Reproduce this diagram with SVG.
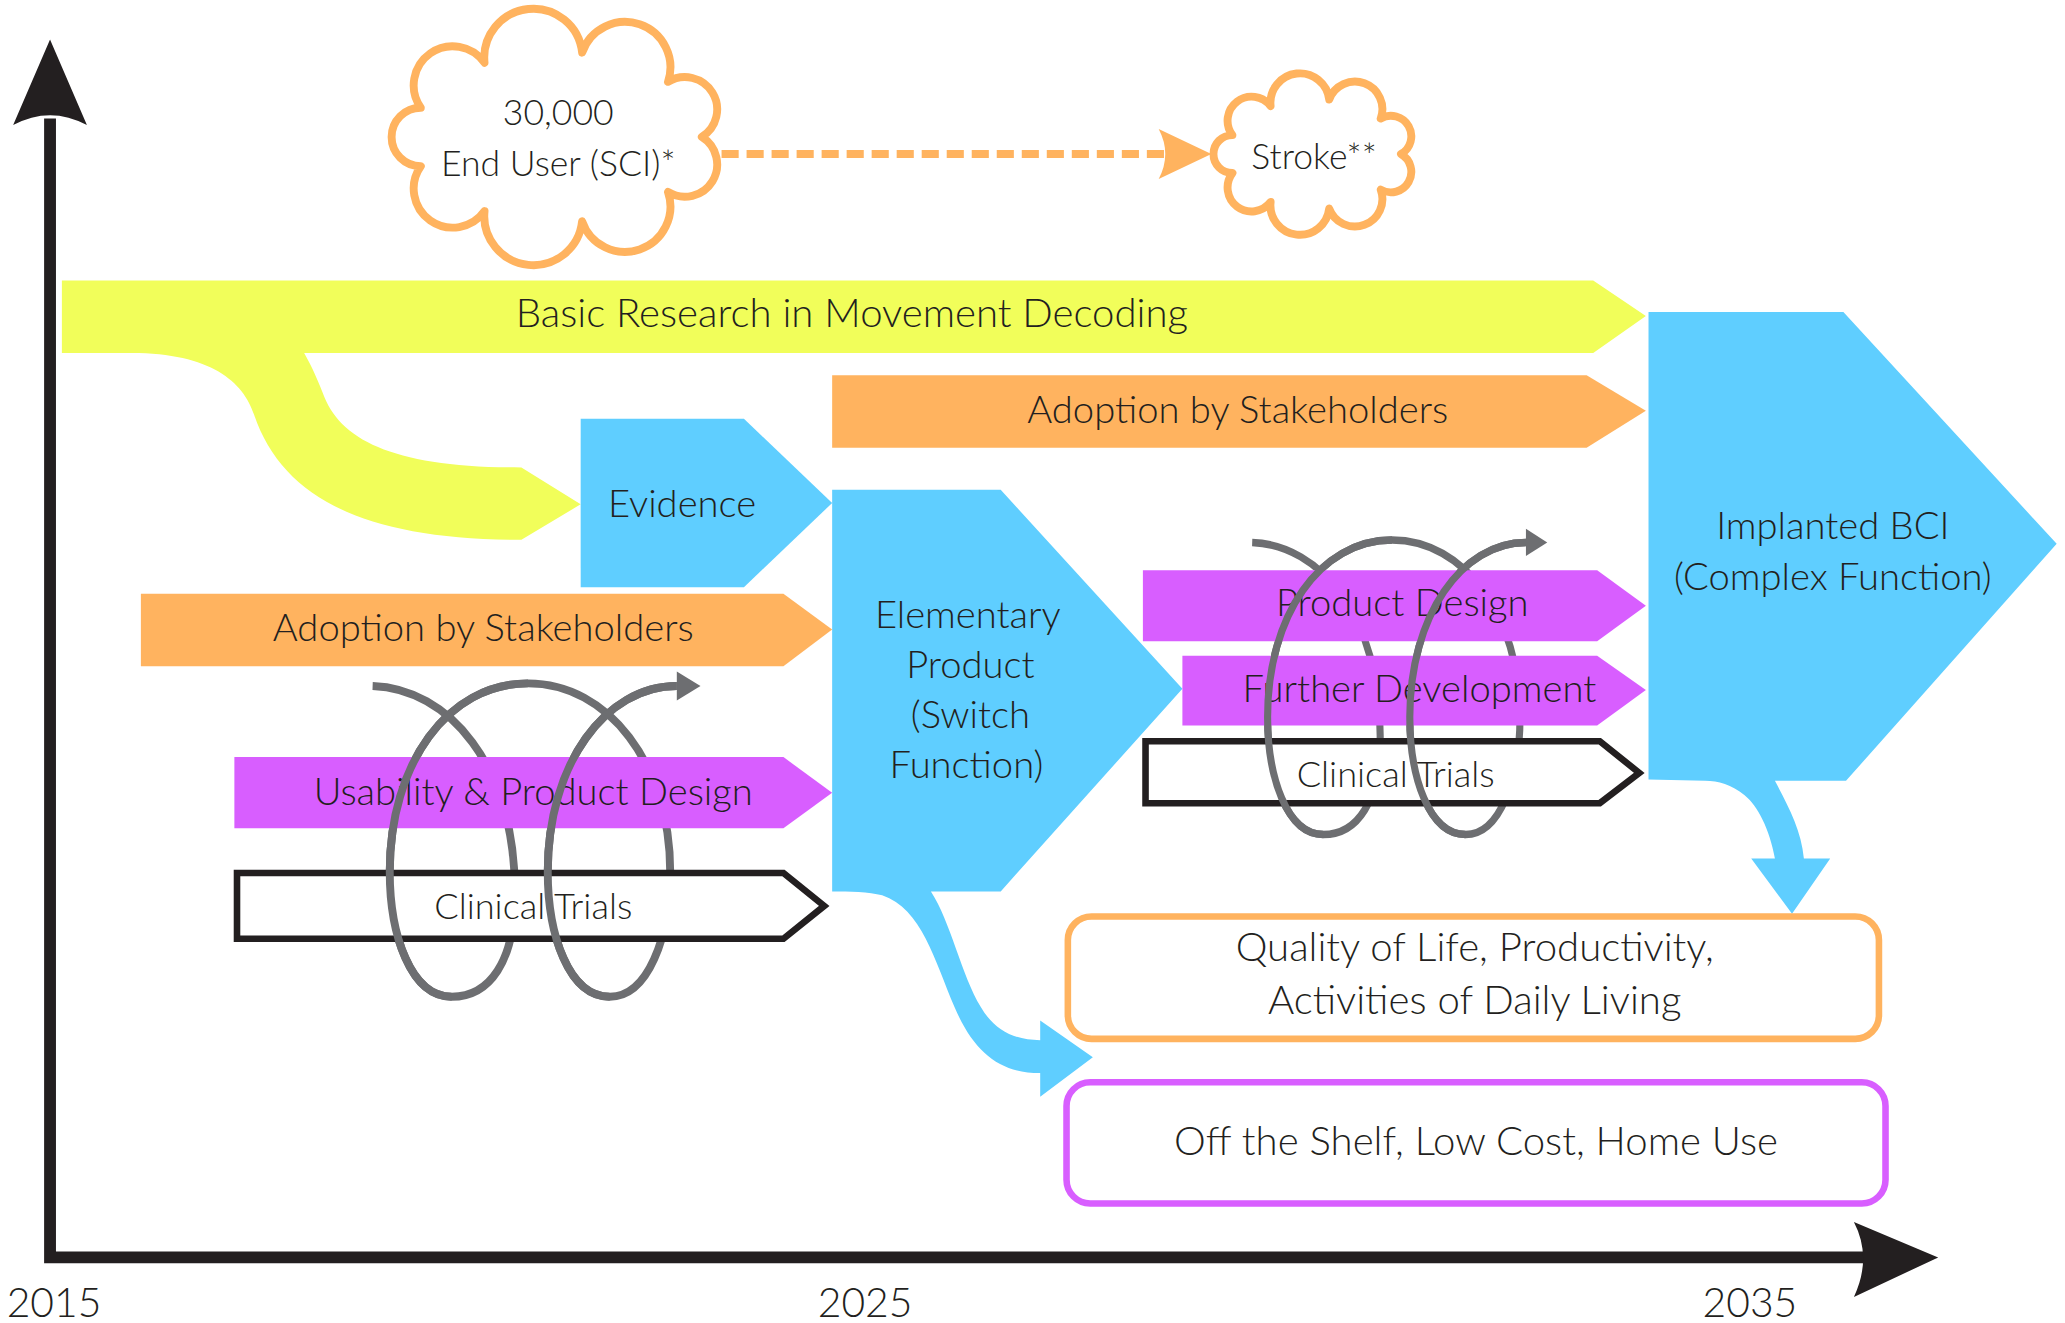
<svg xmlns="http://www.w3.org/2000/svg" width="2065" height="1323" viewBox="0 0 2065 1323">
<style>
text{font-family:"Source Sans Pro","Lato","Open Sans",sans-serif;font-weight:300;fill:#231F20;text-anchor:middle}
.lbl{font-size:29px}
.big{font-size:30.5px}
.sm{font-size:27.5px}
.yr{font-size:31px}
.cl{font-size:27px}
.coil{fill:none;stroke:#6D6E71;stroke-width:6}
</style>
<defs>
<path id="coilFull" d="M283,521 C340,523 392,580 391,680 C391,730 372,757 343,757 C312,757 296,710 296,662 C296,580 340,519 401,519 C462,519 509,580 509,662 C509,712 492,757 463,757 C432,757 416,710 416,662 C416,580 460,521 514,521"/>
<path id="coilFront" d="M343,757 C312,757 296,710 296,662 C296,580 340,519 401,519 M463,757 C432,757 416,710 416,662 C416,580 460,521 514,521"/>
</defs>
<rect width="2065" height="1323" fill="#fff"/>
<g transform="scale(1.3167)">
<g id="axes">
<polyline points="38,90 38,955 1420,955" fill="none" stroke="#231F20" stroke-width="9"/>
<path d="M38,30 L66,95 Q38,80 10,95 Z" fill="#231F20"/>
<path d="M1472,955 L1408,985 Q1422,955 1408,928 Z" fill="#231F20"/>
<text class="yr" x="41" y="1000">2015</text>
<text class="yr" x="657" y="1000">2025</text>
<text class="yr" x="1329" y="1000">2035</text>
</g>
<g id="coil-left-back" class="coil"><use href="#coilFull"/><path d="M514,510 L532,521 L514,532 Z" fill="#6D6E71" stroke="none"/></g>
<g id="coil-right-back" class="coil" transform="translate(696.3,-77.74) scale(0.9,0.94)"><use href="#coilFull"/><path d="M514,510 L532,521 L514,532 Z" fill="#6D6E71" stroke="none"/></g>
<g id="connectors">
<line x1="548" y1="117" x2="886" y2="117" stroke="#FFB35F" stroke-width="6" stroke-dasharray="13 6"/>
<path d="M880,98 L920,117 L880,136 Q890,117 880,98 Z" fill="#FFB35F"/>
</g>
<g id="cloud-sci">
<path d="M533,104 A1,1 0 0 1 507.3,145.8 A1,1 0 0 1 442.1,168 A1,1 0 0 1 368,160.3 A1,1 0 0 1 319.6,126.2 A1,1 0 0 1 319.6,81.8 A1,1 0 0 1 368,47.7 A1,1 0 0 1 442.1,40 A1,1 0 0 1 507.3,62.2 A1,1 0 0 1 533,104 Z" fill="#fff" stroke="#FFB35F" stroke-width="6" stroke-linejoin="round"/>
<text class="cl" x="424" y="95">30,000</text>
<text class="cl" x="424" y="134">End User (SCI)*</text>
</g>
<g id="cloud-stroke">
<path d="M1064,117 A1,1 0 0 1 1048.6,144 A1,1 0 0 1 1009.5,158.4 A1,1 0 0 1 965,153.4 A1,1 0 0 1 936,131.4 A1,1 0 0 1 936,102.6 A1,1 0 0 1 965,80.6 A1,1 0 0 1 1009.5,75.6 A1,1 0 0 1 1048.6,90 A1,1 0 0 1 1064,117 Z" fill="#fff" stroke="#FFB35F" stroke-width="6" stroke-linejoin="round"/>
<text class="cl" x="998" y="128">Stroke**</text>
</g>
<g id="basic-research">
<path d="M47,213 L1210,213 L1250,240 L1210,268 L231,268 C235,275 240,285 245,298 C258,335 300,355 396,355 L441,383 L396,410 C280,410 215,380 193,315 C185,290 160,268 100,268 L47,268 Z" fill="#F1FE5A"/>
<text class="big" x="647" y="248">Basic Research in Movement Decoding</text>
</g>
<g id="adoption-upper">
<path d="M632,285 L1205,285 L1250,312 L1205,340 L632,340 Z" fill="#FFB35F"/>
<text class="lbl" x="940" y="321">Adoption by Stakeholders</text>
</g>
<g id="evidence">
<path d="M441,318 L565,318 L632,382 L565,446 L441,446 Z" fill="#5FCEFF"/>
<text class="lbl" x="518" y="393">Evidence</text>
</g>
<g id="adoption-lower">
<path d="M107,451 L595,451 L632,478 L595,506 L107,506 Z" fill="#FFB35F"/>
<text class="lbl" x="367" y="487">Adoption by Stakeholders</text>
</g>
<g id="elementary-product">
<path d="M632,372 L760,372 L898,523 L760,677 L707,677 C722,700 730,740 745,765 C755,782 770,790 790,790 L790,775 L830,803 L790,833 L790,815 C760,815 740,800 725,765 C710,730 700,690 670,680 C660,677 645,677 632,677 Z" fill="#5FCEFF"/>
<text class="lbl" x="735" y="477">Elementary</text>
<text class="lbl" x="737" y="515">Product</text>
<text class="lbl" x="737" y="553">(Switch</text>
<text class="lbl" x="734" y="591">Function)</text>
</g>
<g id="usability">
<path d="M178,575 L595,575 L632,602 L595,629 L178,629 Z" fill="#D85EFF"/>
<text class="lbl" x="405" y="611">Usability &amp; Product Design</text>
</g>
<g id="clinical-left">
<path d="M180,663 L595,663 L626,688 L595,713 L180,713 Z" fill="#fff" stroke="#231F20" stroke-width="5"/>
<text class="sm" x="405" y="698">Clinical Trials</text>
</g>
<g id="product-design">
<path d="M868,433 L1213,433 L1250,460 L1213,487 L868,487 Z" fill="#D85EFF"/>
<text class="lbl" x="1065" y="468">Product Design</text>
</g>
<g id="further-development">
<path d="M898,498 L1213,498 L1250,524 L1213,551 L898,551 Z" fill="#D85EFF"/>
<text class="lbl" x="1078" y="533">Further Development</text>
</g>
<g id="clinical-right">
<path d="M870,563 L1215,563 L1245,587 L1215,610 L870,610 Z" fill="#fff" stroke="#231F20" stroke-width="5"/>
<text class="sm" x="1060" y="598">Clinical Trials</text>
</g>
<g id="coil-left-front" class="coil"><use href="#coilFront"/></g>
<g id="coil-right-front" class="coil" transform="translate(696.3,-77.74) scale(0.9,0.94)"><use href="#coilFront"/></g>
<g id="implanted-bci">
<path d="M1252,237 L1400,237 L1562,413 L1402,593 L1348,593 C1358,612 1368,630 1370,652 L1390,652 L1361,694 L1330,652 L1348,652 C1344,630 1335,612 1325,604 C1315,596 1305,593 1295,593 L1252,592 Z" fill="#5FCEFF"/>
<text class="lbl" x="1392" y="409">Implanted BCI</text>
<text class="lbl" x="1392" y="448">(Complex Function)</text>
</g>
<g id="quality">
<rect x="811" y="696" width="616" height="93" rx="18" fill="#fff" stroke="#FFB35F" stroke-width="5"/>
<text class="big" x="1120" y="730">Quality of Life, Productivity,</text>
<text class="big" x="1120" y="770">Activities of Daily Living</text>
</g>
<g id="off-the-shelf">
<rect x="810" y="822" width="622" height="92" rx="18" fill="#fff" stroke="#D85EFF" stroke-width="5"/>
<text class="big" x="1121" y="877">Off the Shelf, Low Cost, Home Use</text>
</g>
</g>
</svg>
